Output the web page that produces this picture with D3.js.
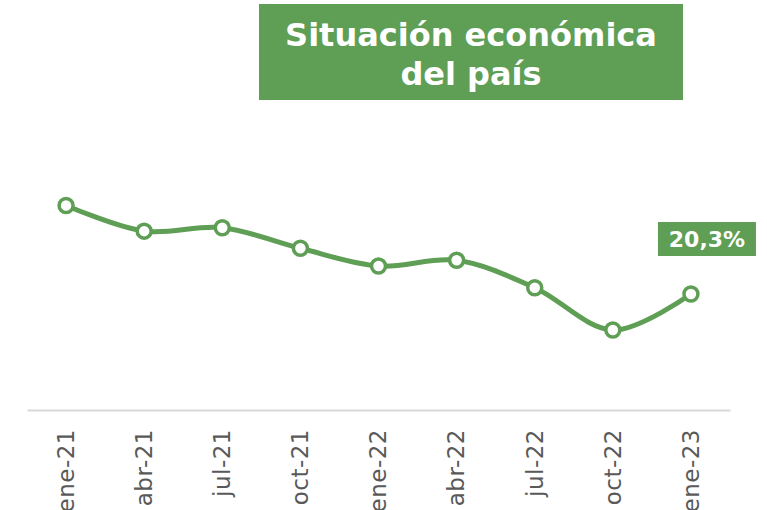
<!DOCTYPE html>
<html>
<head>
<meta charset="utf-8">
<script src="https://cdn.jsdelivr.net/npm/d3@7"></script>
<style>
  body { margin: 0; background: #fff; }
  svg { display: block; }
</style>
</head>
<body>
<script>
// data
var periods = ['ene-21', 'abr-21', 'jul-21', 'oct-21', 'ene-22', 'abr-22', 'jul-22', 'oct-22', 'ene-23'];
var values = [35.8, 31.3, 31.9, 28.3, 25.2, 26.2, 21.4, 14.0, 20.3];
var titleLines = ['Situación económica', 'del país'];

var green = '#5f9e55';

var width = 767, height = 510;
var margin = {left: 27, right: 37, top: 0, bottom: 100};

var svg = d3.select('body').append('svg')
    .attr('width', width)
    .attr('height', height);

// scales
var x = d3.scalePoint()
    .domain(periods)
    .range([margin.left, width - margin.right])
    .padding(0.5);

var y = d3.scaleLinear()
    .domain([0, 40])
    .range([410, 410 - 40 * 5.714]);

// x axis
var xAxis = svg.append('g')
    .attr('transform', 'translate(0,410)')
    .call(d3.axisBottom(x).tickSize(0).tickPadding(18));

xAxis.select('.domain')
    .attr('stroke', '#d9d9d9')
    .attr('stroke-width', 2);

// labels run off the bottom edge, as in the original
xAxis.selectAll('text')
    .attr('transform', 'rotate(-90)')
    .attr('x', -19)
    .attr('y', -1)
    .attr('dy', '0.36em')
    .style('text-anchor', 'end')
    .style('font-family', 'DejaVu Sans, Verdana, sans-serif')
    .style('font-size', '23px')
    .style('letter-spacing', '0.5px')
    .style('fill', '#595959');

// line
var line = d3.line()
    .x(function(d, i) { return x(periods[i]); })
    .y(function(d) { return y(d); })
    .curve(d3.curveCatmullRom.alpha(0.5));

svg.append('path')
    .datum(values)
    .attr('d', line)
    .attr('fill', 'none')
    .attr('stroke', green)
    .attr('stroke-width', 5)
    .attr('stroke-linecap', 'round');

svg.selectAll('.dot')
    .data(values)
    .enter().append('circle')
    .attr('class', 'dot')
    .attr('cx', function(d, i) { return x(periods[i]); })
    .attr('cy', function(d) { return y(d); })
    .attr('r', 7)
    .attr('fill', '#fff')
    .attr('stroke', green)
    .attr('stroke-width', 3.5);

// last value label
var last = values.length - 1;
var lx = x(periods[last]) + 16, ly = y(values[last]) - 55;
svg.append('rect')
    .attr('x', lx - 49)
    .attr('y', ly - 17)
    .attr('width', 98)
    .attr('height', 34)
    .attr('fill', green);

svg.append('text')
    .attr('x', lx)
    .attr('y', ly)
    .attr('dy', '0.36em')
    .attr('text-anchor', 'middle')
    .style('font-family', 'DejaVu Sans, Verdana, sans-serif')
    .style('font-weight', 'bold')
    .style('font-size', '22px')
    .style('fill', '#fff')
    .text(d3.format('.1f')(values[last]).replace('.', ',') + '%');

// title box
svg.append('rect')
    .attr('x', 259)
    .attr('y', 4)
    .attr('width', 424)
    .attr('height', 96)
    .attr('fill', green);

svg.selectAll('.title')
    .data(titleLines)
    .enter().append('text')
    .attr('class', 'title')
    .attr('x', 471)
    .attr('y', function(d, i) { return 34 + i * 39; })
    .attr('dy', '0.36em')
    .attr('text-anchor', 'middle')
    .style('font-family', 'DejaVu Sans, Verdana, sans-serif')
    .style('font-weight', 'bold')
    .style('font-size', '32px')
    .style('fill', '#fff')
    .text(function(d) { return d; });
</script>
</body>
</html>
